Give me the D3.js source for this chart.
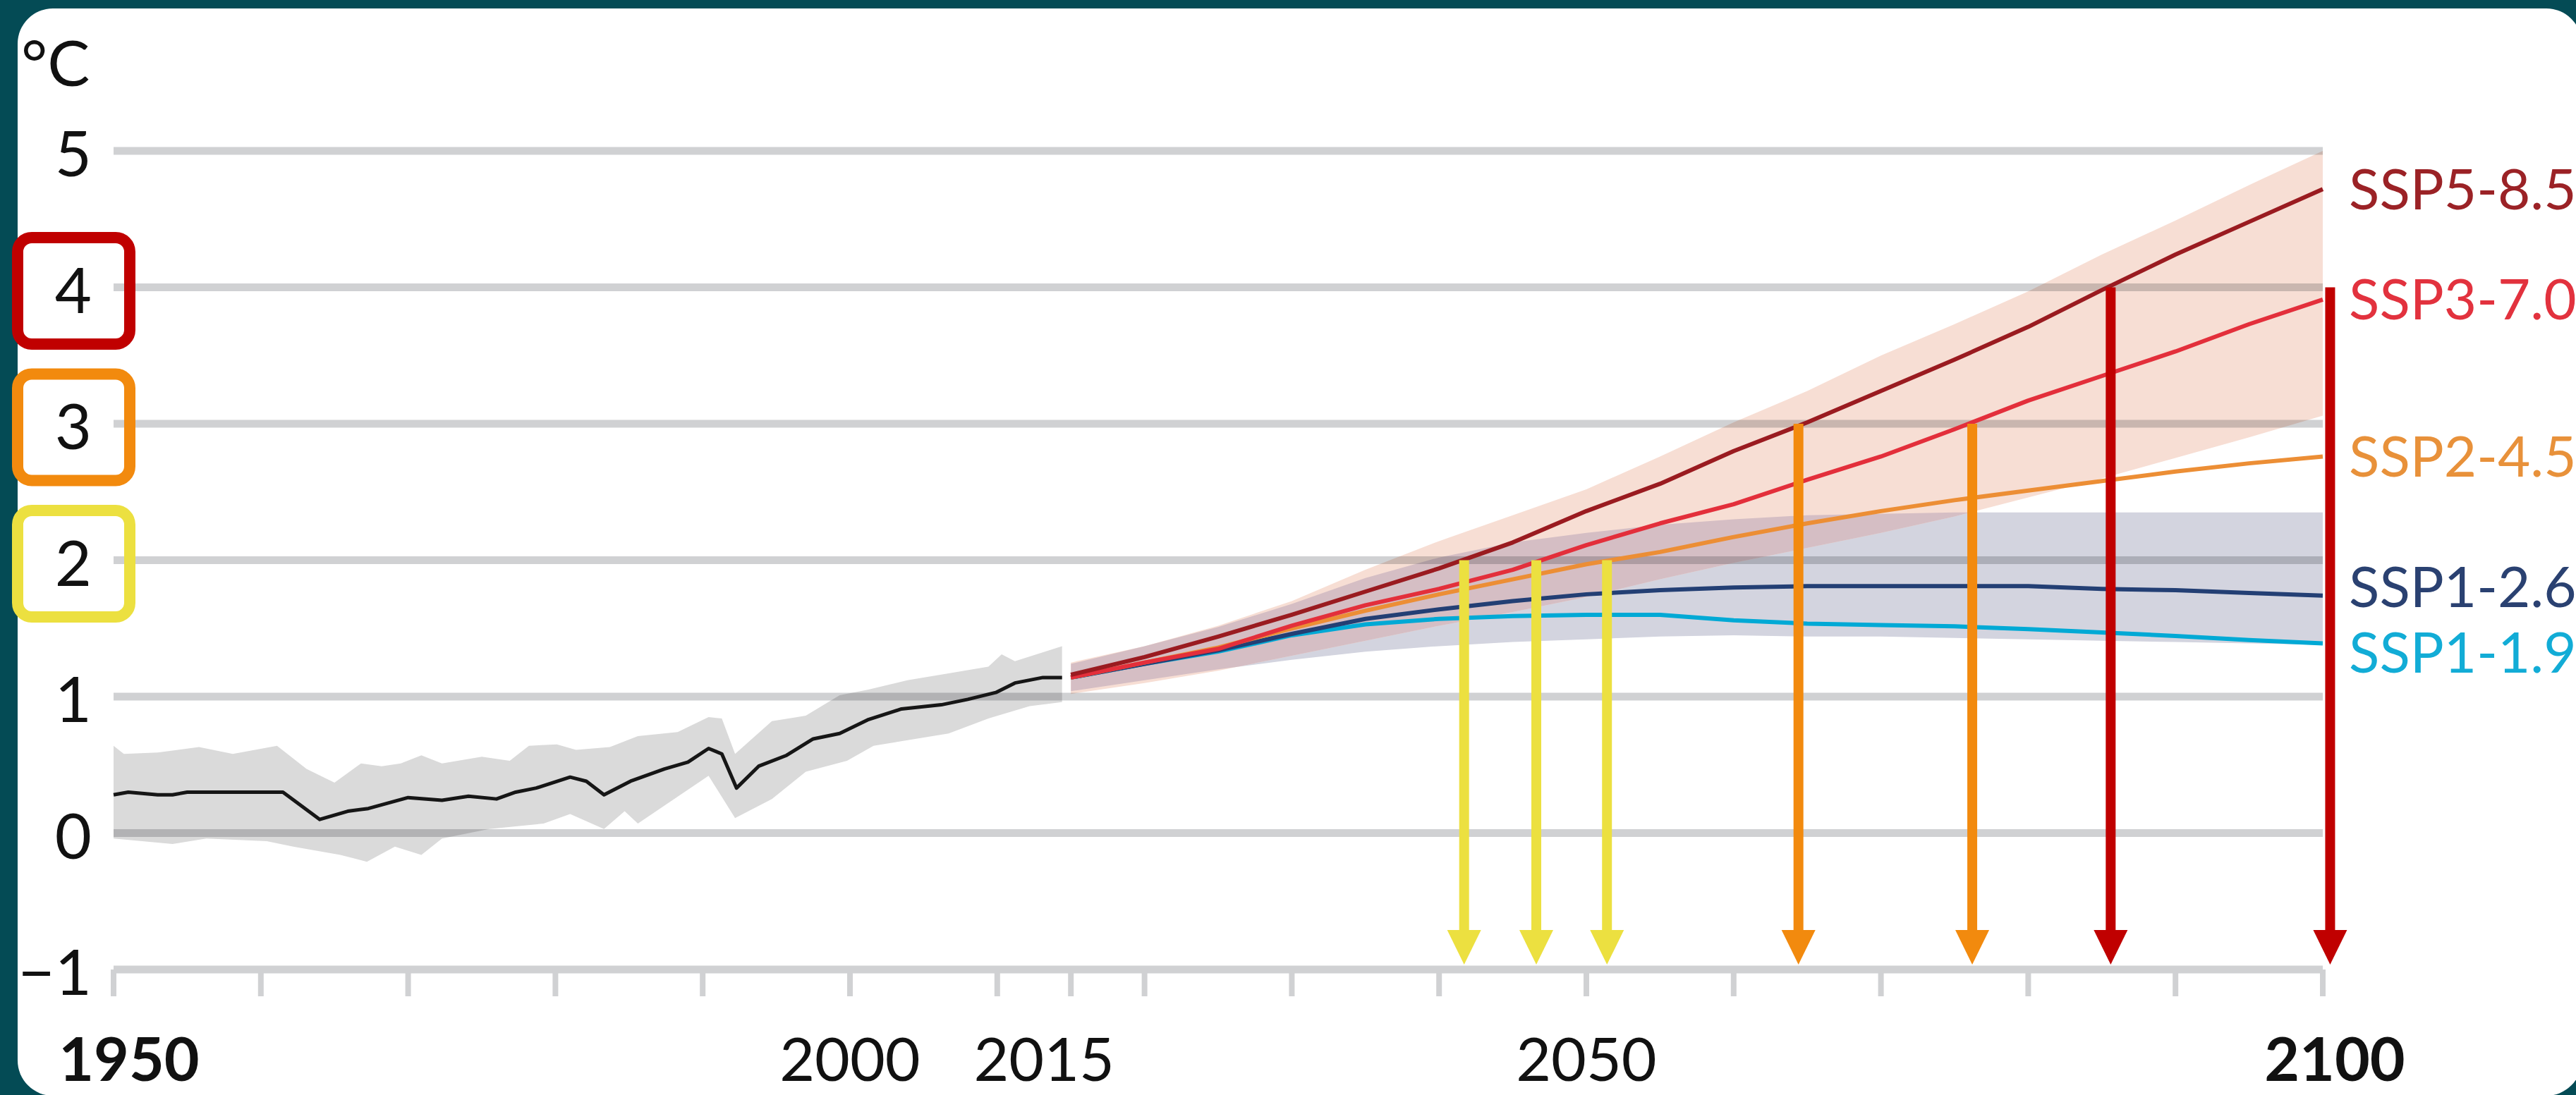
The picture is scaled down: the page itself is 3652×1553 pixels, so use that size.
<!DOCTYPE html>
<html>
<head>
<meta charset="utf-8">
<script src="https://cdn.jsdelivr.net/npm/d3@7"></script>
<style>
  html, body { margin: 0; padding: 0; background: #044b55; }
  svg { display: block; }
  text { font-family: Lato, "Open Sans", "DejaVu Sans", sans-serif; }
</style>
</head>
<body>
<svg id="chart" width="3652" height="1553"></svg>
<script>
// ---------- observed record (1950–2014) ----------
const histYears  = [1950, 1951, 1953, 1954, 1955, 1961.5, 1964, 1965.9, 1967.3, 1970, 1972.3, 1974.1, 1976, 1977.3, 1978.7, 1981, 1982.1, 1983.3, 1985.1, 1987.4, 1989, 1990.4, 1991.3, 1992.3, 1993.8, 1995.7, 1997.5, 1999.3, 2001.2, 2003.5, 2006.2, 2008, 2009.9, 2011.2, 2013.1, 2014.4];
const histValues = [0.28, 0.30, 0.28, 0.28, 0.30, 0.30, 0.10, 0.16, 0.18, 0.26, 0.24, 0.27, 0.25, 0.30, 0.33, 0.41, 0.38, 0.28, 0.38, 0.47, 0.52, 0.62, 0.58, 0.33, 0.49, 0.57, 0.69, 0.73, 0.83, 0.91, 0.94, 0.98, 1.03, 1.10, 1.14, 1.14];

const histUpperYears = [1950, 1950.7, 1953, 1955.8, 1958.1, 1961.1, 1963.1, 1965, 1966.8, 1968.2, 1969.5, 1970.9, 1972.3, 1975, 1976.9, 1978.2, 1980.1, 1981.4, 1983.7, 1985.6, 1988.3, 1990.4, 1991.3, 1992.2, 1994.7, 1997, 1999.3, 2001.2, 2003.9, 2006.7, 2009.4, 2010.3, 2011.2, 2014.4];
const histUpper      = [0.64, 0.58, 0.59, 0.63, 0.58, 0.64, 0.47, 0.37, 0.51, 0.49, 0.51, 0.57, 0.51, 0.56, 0.53, 0.64, 0.65, 0.61, 0.63, 0.71, 0.74, 0.85, 0.84, 0.58, 0.82, 0.86, 1.01, 1.05, 1.12, 1.17, 1.22, 1.31, 1.26, 1.37];
const histLowerYears = [1950, 1954, 1956.3, 1960.4, 1962.2, 1965.4, 1967.2, 1969.1, 1970.9, 1972.3, 1975.5, 1979.2, 1981, 1983.3, 1984.7, 1985.6, 1990.4, 1992.2, 1994.7, 1997, 1999.8, 2001.6, 2006.7, 2009.4, 2012.2, 2014.4];
const histLower      = [-0.04, -0.08, -0.04, -0.06, -0.10, -0.16, -0.21, -0.10, -0.16, -0.04, 0.03, 0.07, 0.14, 0.03, 0.16, 0.07, 0.42, 0.11, 0.25, 0.45, 0.53, 0.64, 0.73, 0.84, 0.93, 0.96];

// ---------- scenario projections (2015–2100) ----------
const projYears = [2015, 2020, 2025, 2030, 2035, 2040, 2045, 2050, 2055, 2060, 2065, 2070, 2075, 2080, 2085, 2090, 2095, 2100];
const ssp119 = [1.14, 1.24, 1.33, 1.45, 1.53, 1.57, 1.59, 1.60, 1.60, 1.56, 1.535, 1.525, 1.515, 1.495, 1.47, 1.445, 1.415, 1.39];
const ssp126 = [1.14, 1.24, 1.34, 1.46, 1.57, 1.64, 1.70, 1.75, 1.78, 1.80, 1.81, 1.81, 1.81, 1.81, 1.79, 1.78, 1.76, 1.74];
const ssp245 = [1.14, 1.25, 1.36, 1.50, 1.63, 1.75, 1.86, 1.97, 2.06, 2.17, 2.27, 2.36, 2.44, 2.51, 2.58, 2.65, 2.71, 2.76];
const ssp370 = [1.14, 1.25, 1.35, 1.52, 1.67, 1.79, 1.93, 2.11, 2.27, 2.41, 2.59, 2.76, 2.96, 3.17, 3.35, 3.53, 3.73, 3.91];
const ssp585 = [1.16, 1.29, 1.44, 1.60, 1.77, 1.94, 2.13, 2.36, 2.56, 2.80, 3.01, 3.24, 3.47, 3.71, 3.98, 4.24, 4.48, 4.72];

// very likely ranges
const ssp126Low  = [1.04, 1.12, 1.20, 1.27, 1.33, 1.37, 1.40, 1.42, 1.44, 1.45, 1.44, 1.44, 1.43, 1.42, 1.41, 1.40, 1.39, 1.38];
const ssp126High = [1.24, 1.37, 1.51, 1.68, 1.87, 2.02, 2.13, 2.20, 2.26, 2.30, 2.33, 2.34, 2.35, 2.35, 2.35, 2.35, 2.35, 2.35];
const ssp370Low  = [1.02, 1.10, 1.19, 1.30, 1.41, 1.52, 1.62, 1.73, 1.86, 1.98, 2.09, 2.20, 2.32, 2.46, 2.60, 2.75, 2.90, 3.06];
const ssp370High = [1.25, 1.37, 1.52, 1.70, 1.93, 2.14, 2.33, 2.52, 2.76, 3.01, 3.24, 3.50, 3.73, 3.97, 4.24, 4.49, 4.75, 5.00];

const scenarioNames = ["SSP1-1.9", "SSP1-2.6", "SSP2-4.5", "SSP3-7.0", "SSP5-8.5"];
const scenarioSeries = [ssp119, ssp126, ssp245, ssp370, ssp585];

// ---------- warming-level crossings ----------
const crossingYears  = [2041.7, 2046.6, 2051.4, 2064.4, 2076.2, 2085.6, 2100.5];
const crossingLevels = [2, 2, 2, 3, 3, 4, 4];
const highlightedLevels = [4, 3, 2];

// ---------- axes ----------
const yTickValues = [-1, 0, 1, 2, 3, 4, 5];
const xTickYears  = [1950, 1960, 1970, 1980, 1990, 2000, 2010, 2015, 2020, 2030, 2040, 2050, 2060, 2070, 2080, 2090, 2100];
const xLabelYears = [1950, 2000, 2015, 2050, 2100];

// ---------- drawing ----------
const W = 3652, H = 1553;
const svg = d3.select("#chart");

const x = d3.scaleLinear().domain([1950, 2100]).range([161, 3293]);
const y = d3.scaleLinear().domain([-1, 5]).range([1375, 214]);

const lineColor = {
  "SSP1-1.9": "#00a9d5",
  "SSP1-2.6": "#233f74",
  "SSP2-4.5": "#ec8e35",
  "SSP3-7.0": "#e32f3b",
  "SSP5-8.5": "#9a1b20"
};
const labelColor = {
  "SSP1-1.9": "#12acd6",
  "SSP1-2.6": "#2a4171",
  "SSP2-4.5": "#e8913a",
  "SSP3-7.0": "#e2323e",
  "SSP5-8.5": "#9b2226"
};
const levelColor = { 2: "#ece040", 3: "#f28a0e", 4: "#c00000" };
const gridColor = "#d0d1d3";

// backdrop and rounded white card
svg.append("rect").attr("width", W).attr("height", H).attr("fill", "#044b55");
svg.append("rect")
  .attr("x", 25).attr("y", 12).attr("width", 3635).attr("height", 1542)
  .attr("rx", 50).attr("fill", "#ffffff");

// ---- uncertainty bands ----
const bandPath = (upYears, up, loYears, lo) => {
  const pts = upYears.map((t, i) => [x(t), y(up[i])])
    .concat(loYears.map((t, i) => [x(t), y(lo[i])]).reverse());
  return d3.line()(pts) + "Z";
};
const rangeArea = d3.area()
  .x(d => x(d.t)).y0(d => y(d.lo)).y1(d => y(d.hi));
const rangeRows = (lo, hi) => projYears.map((t, i) => ({ t, lo: lo[i], hi: hi[i] }));

const bands = svg.append("g");
bands.append("path")
  .attr("d", bandPath(histUpperYears, histUpper, histLowerYears, histLower))
  .attr("fill", "#dadada");

const lowRange = rangeArea(rangeRows(ssp126Low, ssp126High));
const highRange = rangeArea(rangeRows(ssp370Low, ssp370High));

svg.append("defs").append("clipPath").attr("id", "lowRangeClip")
  .append("path").attr("d", lowRange);

bands.append("path").attr("d", lowRange).attr("fill", "#d3d4df");
bands.append("path").attr("d", highRange).attr("fill", "#f7ded4");
bands.append("path").attr("d", highRange).attr("fill", "#d5bec4")
  .attr("clip-path", "url(#lowRangeClip)");

// ---- gridlines (multiplied so they show through the shading) ----
const grid = svg.append("g").style("mix-blend-mode", "multiply");
grid.selectAll("line.grid")
  .data(yTickValues)
  .join("line")
  .attr("class", "grid")
  .attr("x1", x(1950)).attr("x2", x(2100))
  .attr("y1", d => y(d)).attr("y2", d => y(d))
  .attr("stroke", gridColor).attr("stroke-width", 11);

grid.selectAll("line.tick")
  .data(xTickYears)
  .join("line")
  .attr("class", "tick")
  .attr("x1", d => x(d)).attr("x2", d => x(d))
  .attr("y1", y(-1)).attr("y2", y(-1) + 38)
  .attr("stroke", gridColor).attr("stroke-width", 8);

// ---- series lines ----
const histLine = d3.line().x((d, i) => x(histYears[i])).y(d => y(d));
svg.append("path")
  .attr("d", histLine(histValues))
  .attr("fill", "none").attr("stroke", "#161616").attr("stroke-width", 5)
  .attr("stroke-linejoin", "round");

const projLine = d3.line().x((d, i) => x(projYears[i])).y(d => y(d));
svg.append("g").selectAll("path")
  .data(scenarioNames)
  .join("path")
  .attr("d", (name, k) => projLine(scenarioSeries[k]))
  .attr("fill", "none")
  .attr("stroke", name => lineColor[name])
  .attr("stroke-width", 6)
  .attr("stroke-linejoin", "round");

// ---- arrows marking when each warming level is reached ----
const arrows = svg.append("g");
crossingYears.forEach((yr, i) => {
  const lvl = crossingLevels[i];
  const cx = x(yr);
  const base = y(-1);
  const col = levelColor[lvl];
  arrows.append("line")
    .attr("x1", cx).attr("x2", cx)
    .attr("y1", y(lvl)).attr("y2", base - 50)
    .attr("stroke", col).attr("stroke-width", 14);
  arrows.append("path")
    .attr("d", `M${cx - 24},${base - 56}L${cx + 24},${base - 56}L${cx},${base - 7}Z`)
    .attr("fill", col);
});

// ---- y axis labels ----
const yLabels = svg.append("g")
  .attr("font-size", 90).attr("fill", "#111").attr("text-anchor", "end");
yLabels.selectAll("text")
  .data(yTickValues)
  .join("text")
  .attr("x", 130)
  .attr("y", d => y(d) + 36)
  .text(d => d < 0 ? "\u2212" + Math.abs(d) : d);

svg.append("text")
  .attr("x", 30).attr("y", 122)
  .attr("font-size", 90).attr("fill", "#111")
  .text("°C");

// boxes around the highlighted warming levels
svg.append("g").selectAll("rect")
  .data(highlightedLevels)
  .join("rect")
  .attr("x", 25).attr("width", 159)
  .attr("y", d => y(d) + 5 - 75.5).attr("height", 151)
  .attr("rx", 20)
  .attr("fill", "none")
  .attr("stroke", d => levelColor[d])
  .attr("stroke-width", 16);

// ---- x axis labels ----
const labelNudge = { 1950: 22, 2015: -38, 2100: 17 };
svg.append("g")
  .attr("font-size", 86).attr("fill", "#111").attr("text-anchor", "middle")
  .selectAll("text")
  .data(xLabelYears)
  .join("text")
  .attr("x", d => x(d) + (labelNudge[d] || 0))
  .attr("y", 1533)
  .attr("font-weight", (d, i) => (i === 0 || i === xLabelYears.length - 1) ? 700 : 400)
  .text(d => d);

// ---- scenario labels at the line ends, spread apart where they collide ----
const ends = scenarioNames.map((name, k) => ({
  name, cy: y(scenarioSeries[k][scenarioSeries[k].length - 1])
})).sort((a, b) => a.cy - b.cy);
const minGap = 93;
for (let pass = 0; pass < 5; pass++) {
  for (let i = 1; i < ends.length; i++) {
    const gap = ends[i].cy - ends[i - 1].cy;
    if (gap < minGap) {
      const push = (minGap - gap) / 2;
      ends[i - 1].cy -= push;
      ends[i].cy += push;
    }
  }
}
svg.append("g")
  .attr("font-size", 80)
  .selectAll("text")
  .data(ends)
  .join("text")
  .attr("x", 3330)
  .attr("y", d => d.cy + 28.5)
  .attr("fill", d => labelColor[d.name])
  .text(d => d.name);
</script>
</body>
</html>
